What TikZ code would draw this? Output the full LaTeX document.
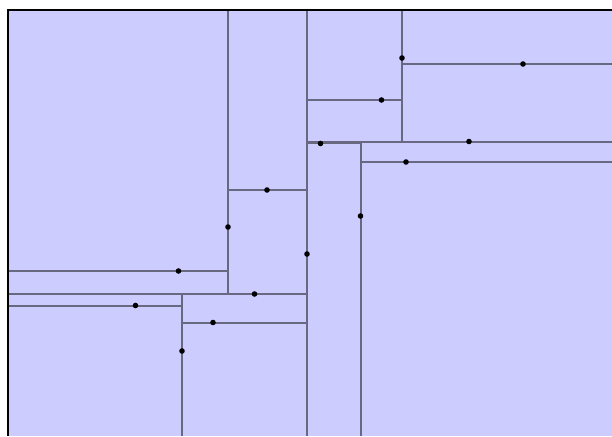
\documentclass[tikz,border=0pt]{standalone}
\usetikzlibrary{calc}
\definecolor{panel}{RGB}{204,204,255}
\definecolor{cut}{RGB}{104,104,128}
\tikzset{
  cutline/.style={draw=cut, line width=1.5pt},
  frame/.style={draw=black, line width=2pt},
  pin/.style={fill=black},
}
\begin{document}
\begin{tikzpicture}[x=1pt,y=-1pt]
\useasboundingbox (0,0) rectangle (612,436);
% background panel
\fill[panel] (8,10) rectangle (612,436);
% vertical cuts
\draw[cutline] (228,10) -- (228,293);
\draw[cutline] (307,10) -- (307,436);
\draw[cutline] (402,10) -- (402,142);
\draw[cutline] (361,142) -- (361,436);
\draw[cutline] (182,293) -- (182,436);
% horizontal cuts
\draw[cutline] (402,64) -- (612,64);
\draw[cutline] (307,100) -- (402,100);
\draw[cutline] (307,142) -- (612,142);
\draw[cutline] (307,143.5) -- (361,143.5);
\draw[cutline] (361,162) -- (612,162);
\draw[cutline] (228,190) -- (307,190);
\draw[cutline] (8,271) -- (228,271);
\draw[cutline] (8,294) -- (307,294);
\draw[cutline] (8,306) -- (182,306);
\draw[cutline] (182,323) -- (307,323);
% frame edges
\draw[frame] (8,436) -- (8,10) -- (612,10);
% split points
\foreach \px/\py in {402/58, 381.5/100, 523/64, 320.5/143.5, 469/141.5, 406/162,
  360.5/216, 267/190, 228/227, 307/254, 178.5/271, 254.5/294, 135.5/305.5,
  213/322.5, 182/351}
  \fill[pin] (\px,\py) circle (2.8);
\end{tikzpicture}
\end{document}
